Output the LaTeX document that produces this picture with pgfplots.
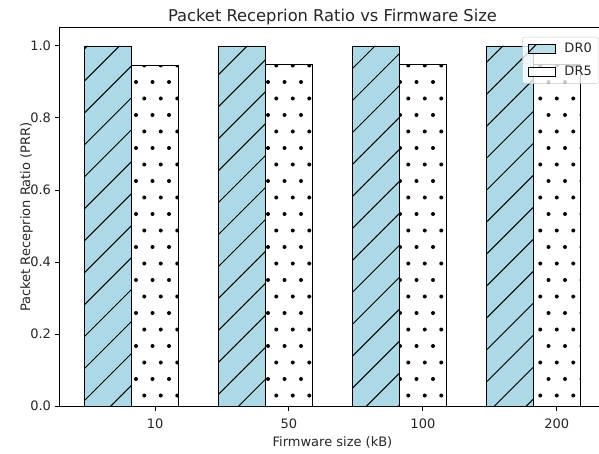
\documentclass[border=0pt]{standalone}
\usepackage{fontspec}
\setmainfont{DejaVu Sans}
\usepackage{pgfplots}
\pgfplotsset{compat=1.18}
\usetikzlibrary{patterns,patterns.meta}

\definecolor{mplblue}{HTML}{ADD8E6}
\definecolor{txt}{HTML}{262626}

% staggered dots, like matplotlib's '.' hatch
\pgfdeclarepatternformonly{mpldots}{\pgfqpoint{-3pt}{-3pt}}{\pgfqpoint{19.5pt}{36pt}}{\pgfqpoint{16.5pt}{33pt}}{%
  \pgfpathcircle{\pgfqpoint{4pt}{8pt}}{2pt}
  \pgfpathcircle{\pgfqpoint{12.25pt}{24.5pt}}{2pt}
  \pgfusepath{fill}}

\begin{document}
\begin{tikzpicture}
\path[use as bounding box] (-60pt,-47pt) rectangle (539pt,406pt);
\clip (-60pt,-47pt) rectangle (539pt,406pt);
\begin{axis}[
  width=545pt, height=378pt,
  scale only axis,
  xmin=-0.36, xmax=3.71,
  ymin=0, ymax=1.05,
  xtick={0.35,1.35,2.35,3.35},
  xticklabels={10,50,100,200},
  ytick={0,0.2,0.4,0.6,0.8,1.0},
  yticklabel style={/pgf/number format/fixed,/pgf/number format/fixed zerofill,/pgf/number format/precision=1},
  /pgf/number format/assume math mode=true,
  tick align=outside,
  major tick length=4.5pt,
  xtick pos=bottom, ytick pos=left,
  axis line style={line width=1pt},
  tick style={line width=1pt, black},
  ticklabel style={font=\fontsize{13}{15}\selectfont, text=txt},
  xticklabel style={anchor=base, yshift=-18pt},
  yticklabel style={anchor=east, xshift=-1pt},
  title={Packet Receprion Ratio vs Firmware Size},
  title style={at={(axis description cs:0.5,1)}, anchor=base, font=\fontsize{16.3}{19}\selectfont, text=txt},
  xlabel={Firmware size (kB)},
  xlabel style={at={(axis description cs:0.5,-0.108)}, anchor=base, font=\fontsize{13}{15}\selectfont, text=txt},
  ylabel={Packet Receprion Ratio (PRR)},
  ylabel style={at={(axis description cs:-0.055,0.5)}, anchor=base, font=\fontsize{13}{15}\selectfont, text=txt},
  legend style={at={(1,1)}, anchor=north east, xshift=-6pt, yshift=-9pt,
    draw=black!20, rounded corners=2pt, fill=white, fill opacity=0.8, text opacity=1,
    font=\fontsize{13}{15}\selectfont, text=txt, legend cell align=left,
    inner xsep=5pt, inner ysep=4pt, row sep=8pt,
    /tikz/every odd column/.style={column sep=7pt}},
  legend image code/.code={\draw[#1, sharp corners] (0pt,-4.5pt) rectangle (27pt,4.5pt);},
]
\addplot[ybar, bar width=0.35, bar shift=0pt, draw=black, line width=0.9pt, fill=mplblue,
  postaction={pattern={Lines[angle=45,distance=22.6pt,line width=1pt]}, pattern color=black}]
  coordinates {(0,1.0) (1,1.0) (2,1.0) (3,1.0)};
\addlegendentry{DR0}
\addplot[ybar, bar width=0.35, bar shift=0pt, draw=black, line width=0.9pt, fill=white,
  postaction={pattern=mpldots, pattern color=black}]
  coordinates {(0.35,0.945) (1.35,0.948) (2.35,0.948) (3.35,0.948)};
\addlegendentry{DR5}
\end{axis}
\end{tikzpicture}
\end{document}
